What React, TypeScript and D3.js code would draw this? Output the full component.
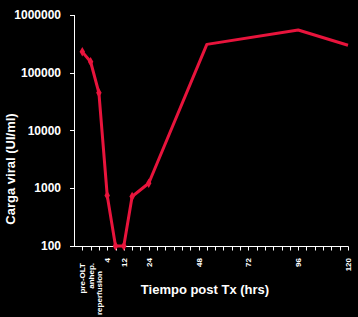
import React from "react";
import * as d3 from "d3";

const yTicks = [100, 1000, 10000, 100000, 1000000];
const xLabelHours = [-8, -4, 0, 4, 12, 24, 48, 72, 96, 120];
const xLabelTexts = ["pre-OLT", "anhep.", "reperfusion", "4", "12", "24", "48", "72", "96", "120"];
const pointHours = [-8, -4, 0, 4, 8, 12, 16, 24, 52, 96, 120];
const pointValues = [230000, 155000, 45000, 750, 100, 100, 720, 1220, 310000, 550000, 300000];
const markedPoints = 8;

const W = 358;
const H = 317;
const RED = "#e8143c";
const FONT = "'Liberation Sans', Arial, sans-serif";

export default function App() {
  const x = d3.scaleLinear().domain([-12, 120]).range([74, 348]);
  const y = d3.scaleLog().domain([100, 1000000]).range([246, 15]);
  const line = d3
    .line<number>()
    .x((_, i) => x(pointHours[i]))
    .y((v) => y(v));
  const diamond = d3.symbol().type(d3.symbolDiamond).size(26)() as string;
  const tickHours = d3.range(-8, 121, 4);

  return (
    <svg
      width={W}
      height={H}
      style={{ position: "absolute", left: 0, top: 0, background: "#000" }}
    >
      <rect x={0} y={0} width={W} height={H} fill="#000" />
      {/* y axis */}
      <line x1={74.5} x2={74.5} y1={y(1000000)} y2={y(100)} stroke="#fff" strokeWidth={1} />
      {yTicks.map((t) => (
        <g key={t}>
          <line x1={70} x2={74.5} y1={Math.round(y(t)) + 0.5} y2={Math.round(y(t)) + 0.5} stroke="#fff" />
          <text
            x={61}
            y={y(t)}
            dy="0.35em"
            textAnchor="end"
            fill="#fff"
            fontFamily={FONT}
            fontWeight="bold"
            fontSize={12}
          >
            {t}
          </text>
        </g>
      ))}
      {/* x axis */}
      <line x1={74} x2={348.5} y1={246.5} y2={246.5} stroke="#fff" />
      {tickHours.map((h) => (
        <line key={h} x1={Math.round(x(h)) + 0.5} x2={Math.round(x(h)) + 0.5} y1={246.5} y2={250.5} stroke="#fff" />
      ))}
      {xLabelHours.map((h, i) => {
        const txt = xLabelTexts[i];
        const top = txt === "reperfusion" ? 271 : isNaN(Number(txt)) ? 263 : 258;
        return (
          <text
            key={txt}
            transform={`translate(${x(h) + 3},${top}) rotate(-90)`}
            textAnchor="end"
            fill="#fff"
            fontFamily={FONT}
            fontWeight="bold"
            fontSize={8}
          >
            {txt}
          </text>
        );
      })}
      {/* titles */}
      <text
        transform={`translate(15,169) rotate(-90)`}
        textAnchor="middle"
        fill="#fff"
        fontFamily={FONT}
        fontWeight="bold"
        fontSize={13}
      >
        Carga viral (UI/ml)
      </text>
      <text
        x={205}
        y={294}
        textAnchor="middle"
        fill="#fff"
        fontFamily={FONT}
        fontWeight="bold"
        fontSize={13}
      >
        Tiempo post Tx (hrs)
      </text>
      {/* series */}
      <path d={line(pointValues) as string} fill="none" stroke={RED} strokeWidth={3} strokeLinejoin="round" />
      {pointValues.slice(0, markedPoints).map((v, i) => (
        <path key={i} d={diamond} transform={`translate(${x(pointHours[i])},${y(v)})`} fill={RED} />
      ))}
    </svg>
  );
}
